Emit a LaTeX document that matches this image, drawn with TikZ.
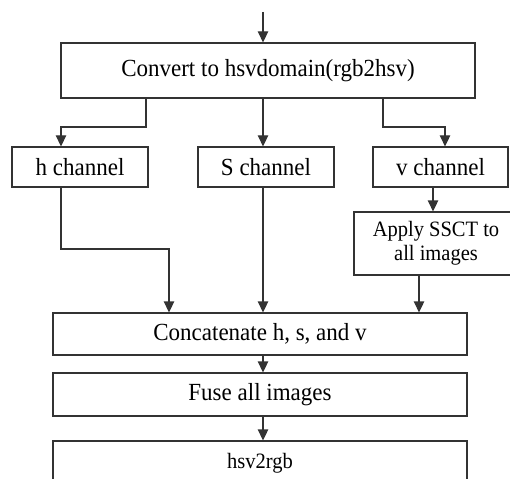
\documentclass[tikz,border=0pt]{standalone}
\usepackage{fontspec}
\setmainfont{Liberation Serif}
\usetikzlibrary{arrows.meta}
\definecolor{ln}{HTML}{333333}
\newcommand\tx[1]{\scalebox{1}[1.07]{#1}}
\tikzset{
  box/.style={draw=ln, line width=1.3pt, rectangle, inner sep=0pt, align=center, font=\fontsize{23}{26}\selectfont},
  smallbox/.style={box, font=\fontsize{20.5}{23.5}\selectfont},
  arr/.style={draw=ln, line width=1.3pt, -{Triangle[length=11pt,width=10.5pt]}}
}
\begin{document}
\begin{tikzpicture}[x=1pt,y=-1pt]
\useasboundingbox (0,0) rectangle (510,478);
\node[box, minimum width=414pt, minimum height=55pt] (conv) at (268,70.5) {\tx{Convert to hsvdomain(rgb2hsv)}};
\node[box, minimum width=136pt, minimum height=40pt] (hch) at (80,167) {\tx{h channel}};
\node[box, minimum width=136pt, minimum height=40pt] (sch) at (266,167) {\tx{S channel}};
\node[box, minimum width=135pt, minimum height=40pt] (vch) at (440.5,167) {\tx{v channel}};
\node[smallbox, minimum width=164pt, minimum height=63pt] (app) at (436,243.5) {\tx{Apply SSCT to}\\\tx{all images}};
\node[box, minimum width=414pt, minimum height=42pt] (cat) at (260,334) {\tx{Concatenate h, s, and v}};
\node[box, minimum width=414pt, minimum height=43pt] (fuse) at (260,394.5) {\tx{Fuse all images}};
\node[smallbox, minimum width=414pt, minimum height=44pt] (hsv) at (260,463) {\tx{hsv2rgb}};
\coordinate (top) at (263,12);
\coordinate (hx) at (146,127);
\coordinate (vx) at (383,127);
\coordinate (hy) at (61,249);
\draw[arr] (top) -- (top |- conv.north);
\draw[arr] (hx |- conv.south) -- (hx) -- (61,127) -- (61,0 |- hch.north);
\draw[arr] (263,0 |- conv.south) -- (263,0 |- sch.north);
\draw[arr] (vx |- conv.south) -- (vx) -- (445,127) -- (445,0 |- vch.north);
\draw[arr] (433,0 |- vch.south) -- (433,0 |- app.north);
\draw[arr] (hy |- hch.south) -- (hy) -- (169,249) -- (169,0 |- cat.north);
\draw[arr] (263,0 |- sch.south) -- (263,0 |- cat.north);
\draw[arr] (419,0 |- app.south) -- (419,0 |- cat.north);
\draw[arr] (263,0 |- cat.south) -- (263,0 |- fuse.north);
\draw[arr] (263,0 |- fuse.south) -- (263,0 |- hsv.north);
\end{tikzpicture}
\end{document}
